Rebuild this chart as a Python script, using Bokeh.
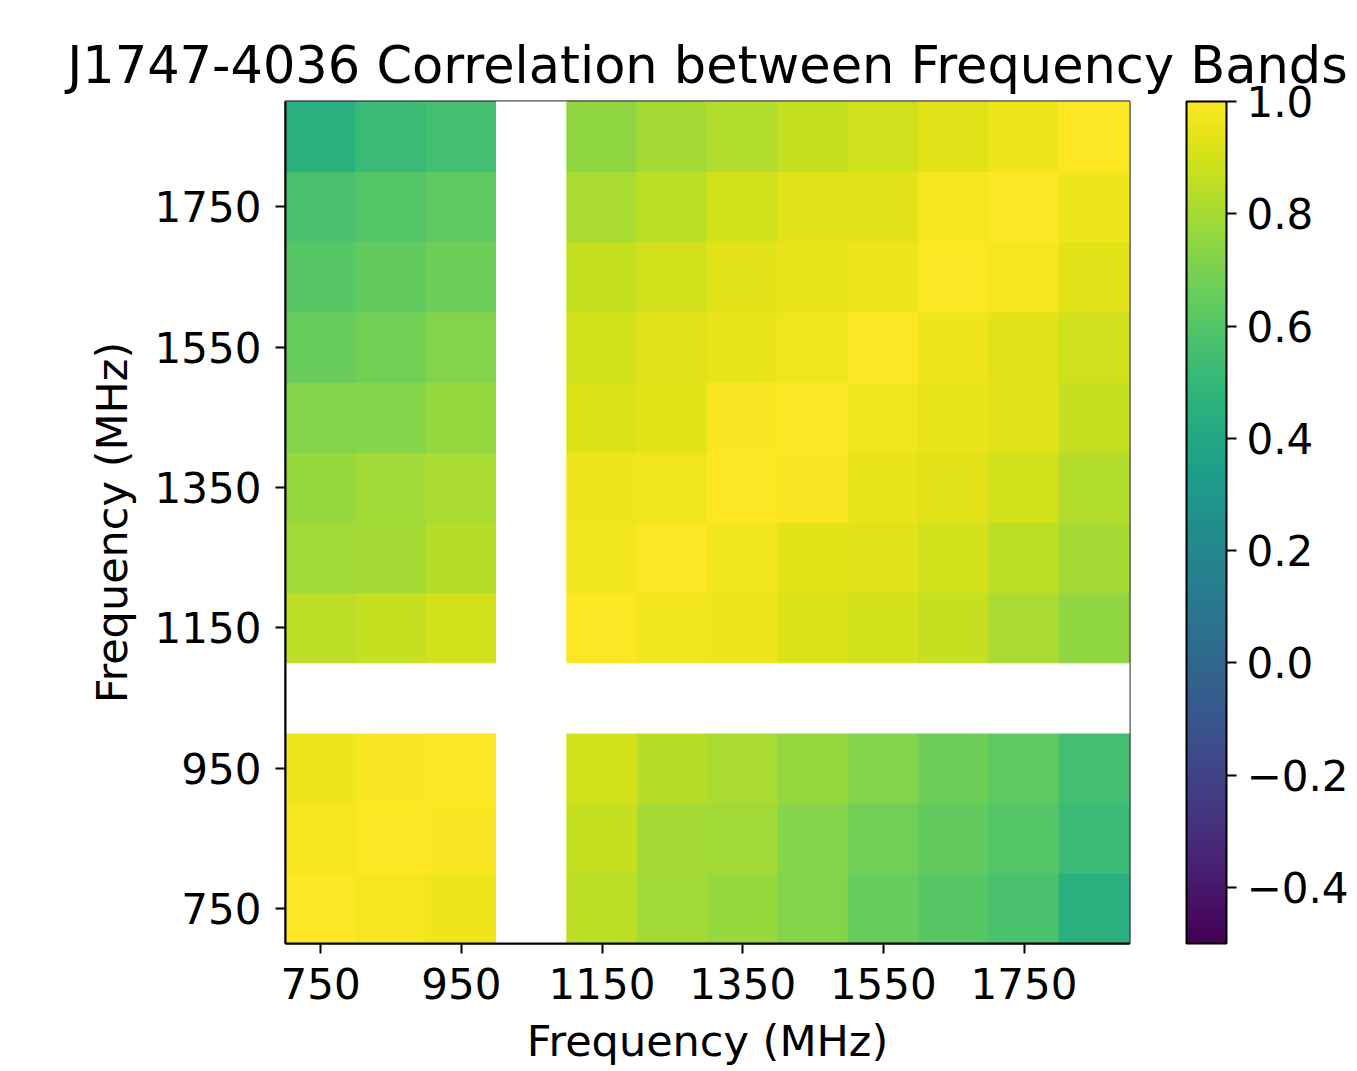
import math
from bokeh.plotting import figure
from bokeh.models import (ColumnDataSource, LinearColorMapper, ColorBar, FixedTicker,
                          Range1d, CustomJSTickFormatter, LinearAxis)
from bokeh.palettes import Viridis256
from bokeh.transform import transform
from bokeh.embed import file_html
from bokeh.resources import INLINE

nan = float("nan")

# frequency band centres (MHz)
freqs = [750, 850, 950, 1050, 1150, 1250, 1350, 1450, 1550, 1650, 1750, 1850]

# correlation rows, one per y-band (bottom to top)
row_750 = [1.00, 0.98, 0.96, nan, 0.85, 0.79, 0.77, 0.72, 0.65, 0.61, 0.57, 0.45]
row_850 = [0.98, 1.00, 0.99, nan, 0.87, 0.80, 0.79, 0.73, 0.68, 0.64, 0.60, 0.52]
row_950 = [0.96, 0.99, 1.00, nan, 0.90, 0.84, 0.81, 0.76, 0.72, 0.67, 0.63, 0.55]
row_1050 = [nan] * 12
row_1150 = [0.85, 0.87, 0.90, nan, 1.00, 0.97, 0.96, 0.92, 0.90, 0.87, 0.81, 0.75]
row_1250 = [0.79, 0.80, 0.84, nan, 0.97, 1.00, 0.97, 0.94, 0.93, 0.90, 0.85, 0.80]
row_1350 = [0.77, 0.79, 0.81, nan, 0.96, 0.97, 1.00, 0.99, 0.95, 0.93, 0.90, 0.83]
row_1450 = [0.72, 0.73, 0.76, nan, 0.92, 0.94, 0.99, 1.00, 0.97, 0.95, 0.93, 0.87]
row_1550 = [0.65, 0.68, 0.72, nan, 0.90, 0.93, 0.95, 0.97, 1.00, 0.96, 0.93, 0.89]
row_1650 = [0.61, 0.64, 0.67, nan, 0.87, 0.90, 0.93, 0.95, 0.96, 1.00, 0.98, 0.93]
row_1750 = [0.57, 0.60, 0.63, nan, 0.81, 0.85, 0.90, 0.93, 0.93, 0.98, 1.00, 0.96]
row_1850 = [0.45, 0.52, 0.55, nan, 0.75, 0.80, 0.83, 0.87, 0.89, 0.93, 0.96, 1.00]

rows = [row_750, row_850, row_950, row_1050, row_1150, row_1250,
        row_1350, row_1450, row_1550, row_1650, row_1750, row_1850]

tick_values = [750, 950, 1150, 1350, 1550, 1750]
cbar_ticks = [-0.4, -0.2, 0.0, 0.2, 0.4, 0.6, 0.8, 1.0]

xs, ys, vs = [], [], []
for j, fy in enumerate(freqs):
    for i, fx in enumerate(freqs):
        xs.append(fx)
        ys.append(fy)
        vs.append(rows[j][i])

source = ColumnDataSource(data=dict(x=xs, y=ys, v=vs))
mapper = LinearColorMapper(palette=Viridis256, low=-0.5, high=1.0, nan_color="white")

FONT = "DejaVu Sans"

p = figure(frame_width=844, frame_height=842, output_backend="svg", toolbar_location=None,
           x_range=Range1d(700, 1900), y_range=Range1d(700, 1900),
           title="J1747-4036 Correlation between Frequency Bands",
           min_border_left=285, min_border_top=101, min_border_bottom=128,
           min_border_right=228)

p.rect(x="x", y="y", width=100, height=100, source=source,
       fill_color=transform("v", mapper), line_color=transform("v", mapper), line_width=1)

p.title.text_font = FONT
p.title.text_font_size = "51px"
p.title.text_font_style = "normal"
p.title.align = "center"
p.title.text_color = "black"
p.title.standoff = 14

p.grid.visible = False
p.outline_line_color = "black"
p.outline_line_width = 2
p.background_fill_color = "white"
p.border_fill_color = "white"

for ax in (p.xaxis[0], p.yaxis[0]):
    ax.ticker = FixedTicker(ticks=tick_values)
    ax.major_label_text_font = FONT
    ax.major_label_text_font_size = "42px"
    ax.major_label_text_color = "black"
    ax.axis_label = "Frequency (MHz)"
    ax.axis_label_text_font = FONT
    ax.axis_label_text_font_size = "43px"
    ax.axis_label_text_font_style = "normal"
    ax.axis_label_text_color = "black"
    ax.major_tick_out = 10
    ax.major_tick_in = 0
    ax.minor_tick_out = 0
    ax.minor_tick_in = 0
    ax.major_tick_line_width = 2
    ax.axis_line_width = 2
    ax.major_label_standoff = 14

p.xaxis[0].axis_label_standoff = 14
p.yaxis[0].axis_label_standoff = 15
p.yaxis[0].major_label_orientation = "horizontal"

# invisible spacer between frame and colour bar (blank axis label reserves the gap)
spacer = LinearAxis(ticker=FixedTicker(ticks=[]), major_tick_out=0, major_tick_in=0,
                    minor_tick_out=0, minor_tick_in=0, axis_line_color=None,
                    major_tick_line_color=None, minor_tick_line_color=None,
                    major_label_standoff=0,
                    axis_label="\u00a0", axis_label_text_font_size="20px",
                    axis_label_text_alpha=0, axis_label_standoff=32)
p.add_layout(spacer, "right")

fmt = CustomJSTickFormatter(code="return tick.toFixed(1).replace('-', '\\u2212');")

cbar = ColorBar(color_mapper=mapper, ticker=FixedTicker(ticks=cbar_ticks), formatter=fmt,
                width=40, height=842, padding=0, margin=0,
                major_label_text_font=FONT, major_label_text_font_size="42px",
                major_label_text_color="black",
                major_tick_out=10, major_tick_in=0, major_tick_line_color="black",
                major_tick_line_width=2,
                bar_line_color="black", bar_line_width=2,
                label_standoff=10, background_fill_color=None, border_line_color=None)
p.add_layout(cbar, "right")

open("out.html", "w").write(file_html(p, INLINE))
